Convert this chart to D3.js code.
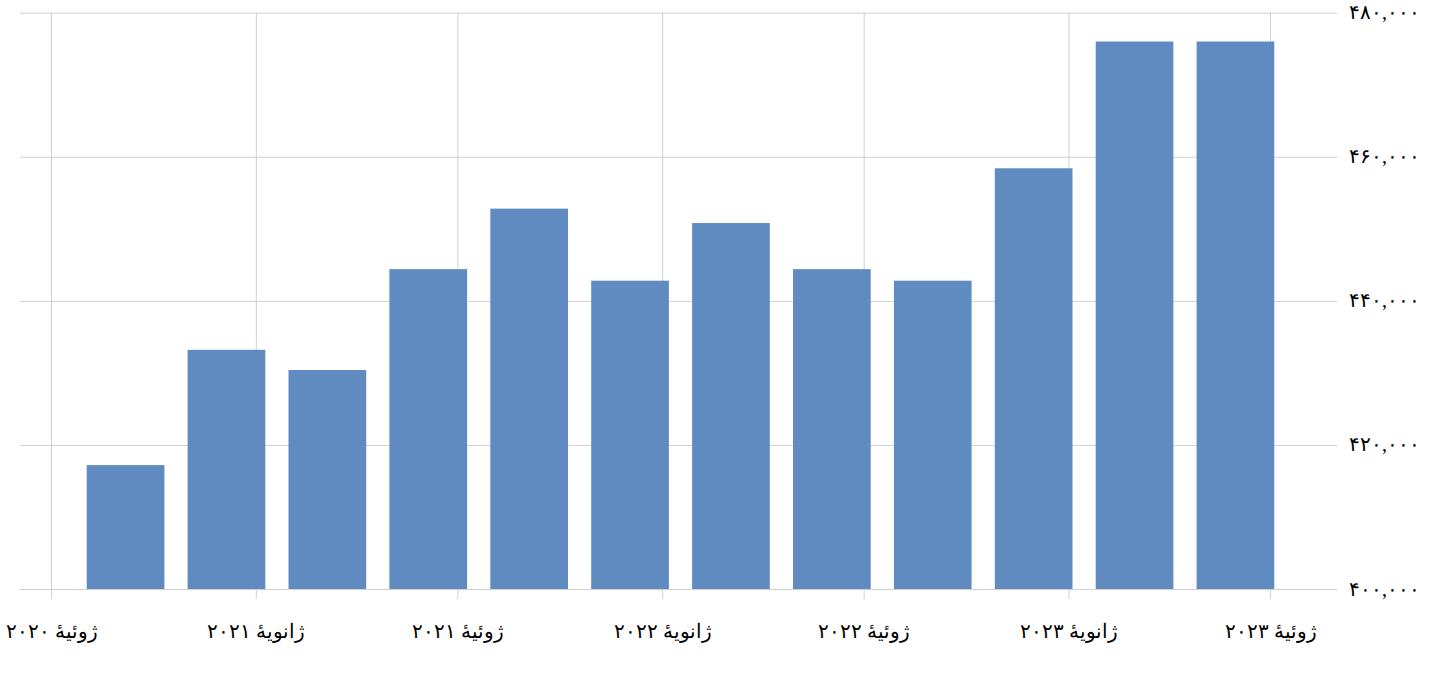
<!DOCTYPE html>
<html>
<head>
<meta charset="utf-8">
<script src="https://cdn.jsdelivr.net/npm/d3@7"></script>
<style>
  html, body { margin: 0; padding: 0; background: #fff; }
  svg { display: block; }
  text { font-family: "Liberation Serif", "DejaVu Serif", serif; fill: #000; }
</style>
</head>
<body>
<svg id="chart" width="1436" height="673"></svg>
<script>
// ---- data ----
const quarters = ["Q3 2020","Q4 2020","Q1 2021","Q2 2021","Q3 2021","Q4 2021",
                  "Q1 2022","Q2 2022","Q3 2022","Q4 2022","Q1 2023","Q2 2023"];
const values = [417200, 433200, 430400, 444400, 452800, 442800,
                450800, 444400, 442800, 458400, 476000, 476000];
const xTickDates = ["2020-07-01","2021-01-01","2021-07-01","2022-01-01","2022-07-01","2023-01-01","2023-07-01"];
const xTickLabels = ["ژوئیهٔ ۲۰۲۰","ژانویهٔ ۲۰۲۱","ژوئیهٔ ۲۰۲۱","ژانویهٔ ۲۰۲۲","ژوئیهٔ ۲۰۲۲","ژانویهٔ ۲۰۲۳","ژوئیهٔ ۲۰۲۳"];
const yTicks = [400000, 420000, 440000, 460000, 480000];
const yTickLabels = ["۴۰۰,۰۰۰","۴۲۰,۰۰۰","۴۴۰,۰۰۰","۴۶۰,۰۰۰","۴۸۰,۰۰۰"];

// ---- layout ----
const svg = d3.select("#chart");
const gridColor = "#d0d0d0";
const barColor = "#608bc1";
const plotLeft = 20, plotRight = 1337, plotTop = 12.7, plotBottom = 589;

const parse = d3.utcParse("%Y-%m-%d");
const xTime = d3.scaleUtc()
  .domain([parse(xTickDates[0]), parse(xTickDates[xTickDates.length - 1])])
  .range([51, 1270]);
const xBand = d3.scaleBand()
  .domain(quarters)
  .range([63.5, 1297.5])
  .paddingInner(0.23)
  .paddingOuter(0.23);
const y = d3.scaleLinear()
  .domain([yTicks[0], yTicks[yTicks.length - 1]])
  .range([plotBottom, plotTop]);

// horizontal grid + right axis labels
const yAxis = d3.axisRight(y)
  .tickValues(yTicks)
  .tickSize(plotRight - plotLeft)
  .tickPadding(12)
  .tickFormat((d, i) => yTickLabels[i]);
const gy = svg.append("g")
  .attr("transform", `translate(${plotLeft},0)`)
  .call(yAxis);
gy.select(".domain").remove();
gy.selectAll(".tick line").attr("stroke", gridColor).attr("stroke-width", 1);
gy.selectAll(".tick text")
  .attr("font-size", 20)
  .attr("dy", "0.3em");

// vertical grid + bottom axis labels
const gx = svg.append("g")
  .attr("transform", `translate(0,${plotBottom + 10})`)
  .call(d3.axisBottom(xTime)
    .tickValues(xTickDates.map(parse))
    .tickSize(-(plotBottom + 10 - plotTop))
    .tickPadding(25)
    .tickFormat((d, i) => xTickLabels[i]));
gx.select(".domain").remove();
gx.selectAll(".tick line").attr("stroke", gridColor).attr("stroke-width", 1);
gx.selectAll(".tick text")
  .attr("font-size", 20)
  .attr("direction", "rtl")
  .attr("text-anchor", "middle");

// bars
svg.append("g")
  .selectAll("rect")
  .data(values)
  .join("rect")
  .attr("x", (d, i) => xBand(quarters[i]))
  .attr("width", xBand.bandwidth())
  .attr("y", d => y(d))
  .attr("height", d => y(yTicks[0]) - y(d))
  .attr("fill", barColor);
</script>
</body>
</html>
